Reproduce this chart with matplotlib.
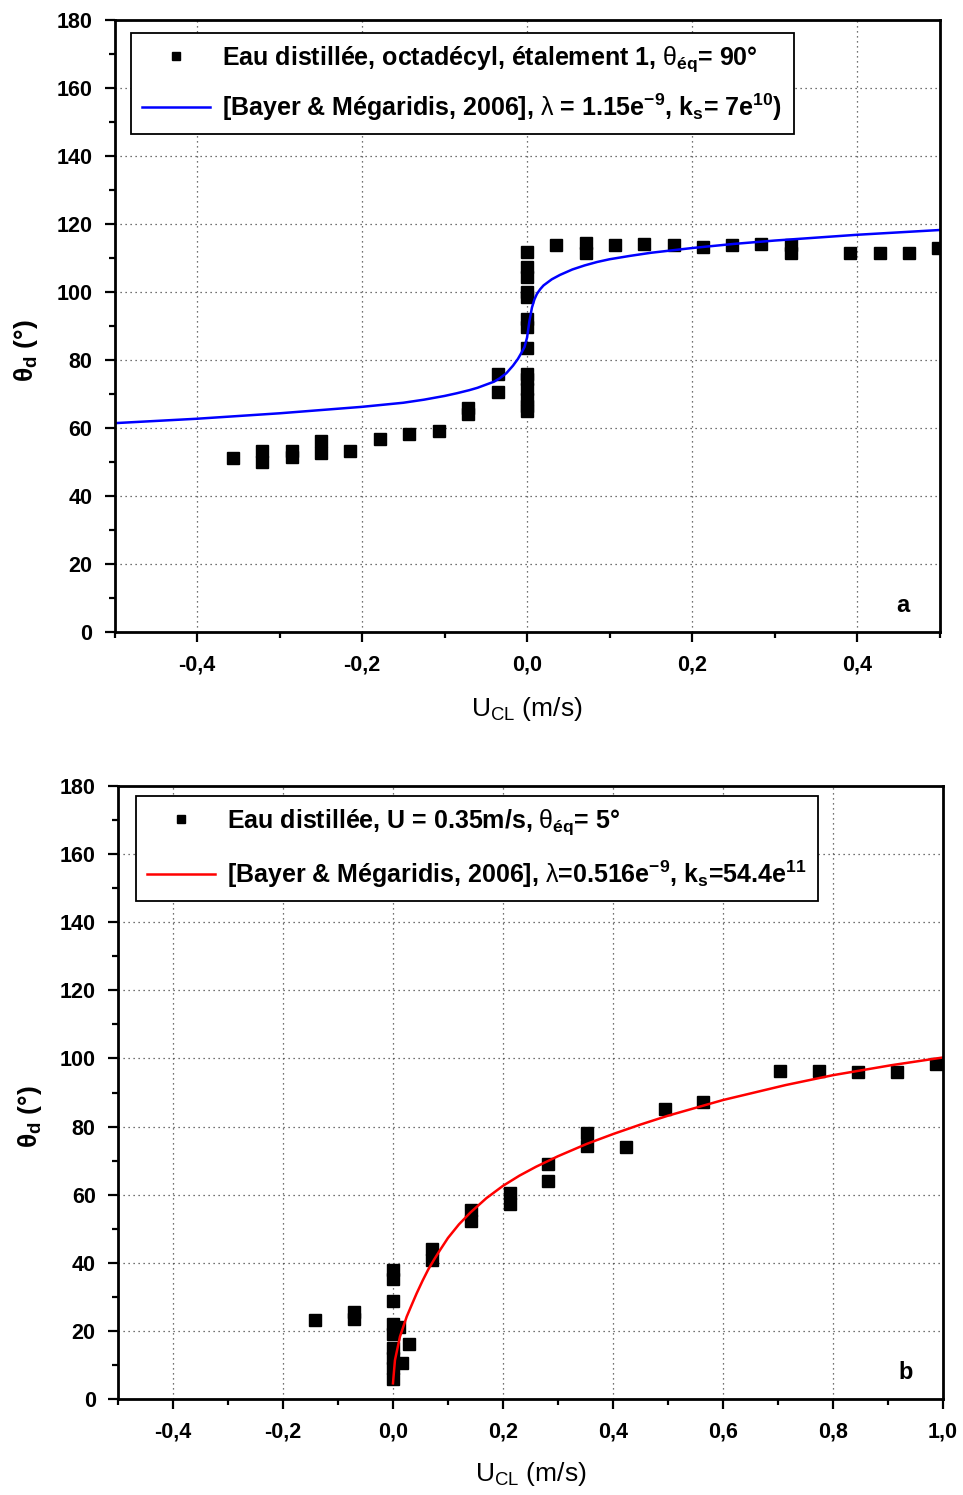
import numpy as np
import matplotlib
matplotlib.use('Agg')
import matplotlib.pyplot as plt
from matplotlib.ticker import MultipleLocator, FuncFormatter

plt.rcParams['font.family'] = ['Liberation Sans', 'DejaVu Sans']
plt.rcParams['mathtext.fontset'] = 'custom'
plt.rcParams['mathtext.rm'] = 'Liberation Sans'
plt.rcParams['mathtext.it'] = 'Liberation Sans'
plt.rcParams['mathtext.bf'] = 'Liberation Sans:bold'

# ── Panel a: octadecyl, spreading 1 ──────────────────────────────────────────
u_a = [-0.356, -0.321, -0.321, -0.285, -0.285, -0.25, -0.25, -0.214, -0.178,
       -0.143, -0.107, -0.071, -0.071, -0.0355, -0.0355,
       0, 0, 0, 0, 0, 0, 0, 0, 0, 0, 0, 0, 0, 0,
       0.035, 0.071, 0.071, 0.107, 0.142, 0.178, 0.213, 0.249, 0.284,
       0.32, 0.32, 0.3915, 0.428, 0.463, 0.4985]
th_a = [51.3, 53.2, 49.9, 53.2, 51.5, 56.2, 52.6, 53.1, 56.6,
        58.3, 59.0, 65.8, 64.2, 76.0, 70.5,
        65.0, 68.5, 71.5, 74.5, 83.4, 89.8, 92.1, 98.6, 100.1, 104.5, 107.4,
        111.8, 76.0, 66.5,
        113.8, 114.3, 111.3, 113.8, 114.2, 113.8, 113.1, 113.9, 114.2,
        113.7, 111.4, 111.4, 111.4, 111.4, 112.8]

# model curve
fit_u_a = [-0.5, -0.4, -0.3, -0.2, -0.15, -0.125, -0.1, -0.085, -0.07, -0.06,
           -0.05, -0.04, -0.033, -0.025, -0.017, -0.011, -0.0065, -0.003, 0.0,
           0.003, 0.006, 0.009, 0.012, 0.016, 0.02, 0.03, 0.04, 0.055, 0.07,
           0.085, 0.1, 0.125, 0.15, 0.2, 0.25, 0.3, 0.4, 0.5]
fit_th_a = [61.4, 62.7, 64.3, 66.2, 67.4, 68.3, 69.4, 70.2, 71.1, 71.8,
            72.7, 73.6, 74.6, 76.1, 78.3, 80.3, 82.2, 83.8, 86.5,
            91.5, 95.4, 97.8, 99.4, 100.8, 101.9, 103.7, 105.0, 106.6, 107.8,
            108.8, 109.6, 110.6, 111.5, 112.9, 114.1, 115.1, 116.8, 118.2]

# ── Panel b: U = 0.35 m/s ────────────────────────────────────────────────────
u_b = [-0.142, -0.071, -0.071,
       0, 0, 0, 0, 0, 0, 0, 0, 0,
       0.011, 0.03, 0.017, 0.0707, 0.0707, 0.141, 0.141, 0.212, 0.212,
       0.282, 0.282, 0.352, 0.352, 0.423, 0.494, 0.564, 0.704, 0.775,
       0.846, 0.917, 0.988]
th_b = [23.2, 25.5, 23.6,
        37.8, 35.2, 28.8, 21.9, 19.1, 15.0, 12.0, 9.0, 6.0,
        21.2, 16.1, 10.7, 44.0, 40.8, 55.5, 52.3, 60.4, 57.2,
        68.9, 64.0, 78.1, 74.4, 74.1, 85.1, 87.3, 96.4, 96.4,
        96.1, 95.9, 98.5]

fit_u_b = [0.0, 0.0036, 0.0127, 0.025, 0.035, 0.043, 0.054, 0.064, 0.075,
           0.085, 0.1, 0.12, 0.141, 0.17, 0.2, 0.23, 0.26, 0.3, 0.352, 0.4,
           0.45, 0.5, 0.6, 0.714, 0.8, 0.905, 1.0]
fit_th_b = [4.6, 11.4, 18.3, 24.2, 28.0, 31.0, 34.8, 38.0, 41.0,
            43.6, 47.3, 51.3, 54.8, 59.0, 62.6, 65.6, 68.2, 71.3, 74.9, 77.8,
            80.6, 83.2, 87.8, 92.2, 95.1, 98.0, 100.3]

lab_pts_a = 'Eau distillée, octadécyl, étalement 1, $\\theta_{\\mathbf{éq}}$= 90°'
lab_fit_a = ('[Bayer & Mégaridis, 2006], $\\lambda$ = 1.15e$^{\\mathbf{-9}}$, '
             'k$_{\\mathbf{s}}$= 7e$^{\\mathbf{10}}$)')
lab_pts_b = 'Eau distillée, U = 0.35m/s, $\\theta_{\\mathbf{éq}}$= 5°'
lab_fit_b = ('[Bayer & Mégaridis, 2006], $\\lambda$=0.516e$^{\\mathbf{-9}}$, '
             'k$_{\\mathbf{s}}$=54.4e$^{\\mathbf{11}}$')


def comma_fmt(v, pos):
    return f'{v:.1f}'.replace('.', ',')


def style_axes(ax, xlim, letter):
    ax.set_xlim(*xlim)
    ax.set_ylim(0, 180)
    ax.xaxis.set_major_locator(MultipleLocator(0.2))
    ax.xaxis.set_minor_locator(MultipleLocator(0.1))
    ax.yaxis.set_major_locator(MultipleLocator(20))
    ax.yaxis.set_minor_locator(MultipleLocator(10))
    ax.xaxis.set_major_formatter(FuncFormatter(comma_fmt))
    ax.tick_params(which='major', direction='out', length=7, width=1.6,
                   labelsize=15.5, pad=9)
    ax.tick_params(which='minor', direction='out', length=4, width=1.6)
    for lab in ax.get_xticklabels() + ax.get_yticklabels():
        lab.set_fontweight('bold')
    for s in ax.spines.values():
        s.set_linewidth(2)
    ax.grid(True, which='major', color='#444444', ls=(0, (1, 3)), lw=0.9)
    ax.set_axisbelow(True)
    ax.set_xlabel('U$_{\\mathrm{CL}}$ (m/s)', fontsize=19)
    ax.set_ylabel('θ$_{\\mathbf{d}}$ (°)', fontsize=19, fontweight='bold')
    ax.text(0.955, 0.025, letter, transform=ax.transAxes, fontsize=17,
            fontweight='bold', ha='center', va='bottom')


def add_legend(ax, anchor, spacing):
    leg = ax.legend(loc='upper left', bbox_to_anchor=anchor,
                    borderaxespad=0, fancybox=False, framealpha=1,
                    edgecolor='black', markerscale=0.75, handlelength=2.7,
                    handletextpad=0.5, borderpad=0.45, labelspacing=spacing,
                    prop={'size': 18, 'weight': 'bold'})
    leg.get_frame().set_linewidth(1.3)
    return leg


fig = plt.figure(figsize=(9.63, 14.95), dpi=100)
ax_a = fig.add_axes([0.1189, 0.5773, 0.8567, 0.4094])
ax_b = fig.add_axes([0.1225, 0.0642, 0.8567, 0.4100])

# Panel a
ax_a.plot(u_a, th_a, 's', color='black', ms=8.5, mec='black', label=lab_pts_a)
ax_a.plot(fit_u_a, fit_th_a, '-', color='#0000ff', lw=1.8, label=lab_fit_a)
style_axes(ax_a, (-0.5, 0.5), 'a')
ax_a.xaxis.set_label_coords(0.5, -0.103)
ax_a.yaxis.set_label_coords(-0.09, 0.46)
add_legend(ax_a, (0.02, 0.979), 0.7)

# Panel b
ax_b.plot(u_b, th_b, 's', color='black', ms=8.5, mec='black', label=lab_pts_b)
ax_b.plot(fit_u_b, fit_th_b, '-', color='#ff0000', lw=1.8, label=lab_fit_b)
style_axes(ax_b, (-0.5, 1.0), 'b')
ax_b.xaxis.set_label_coords(0.5, -0.100)
ax_b.yaxis.set_label_coords(-0.09, 0.46)
add_legend(ax_b, (0.0218, 0.9837), 0.85)

fig.savefig('out.png', dpi=100)
